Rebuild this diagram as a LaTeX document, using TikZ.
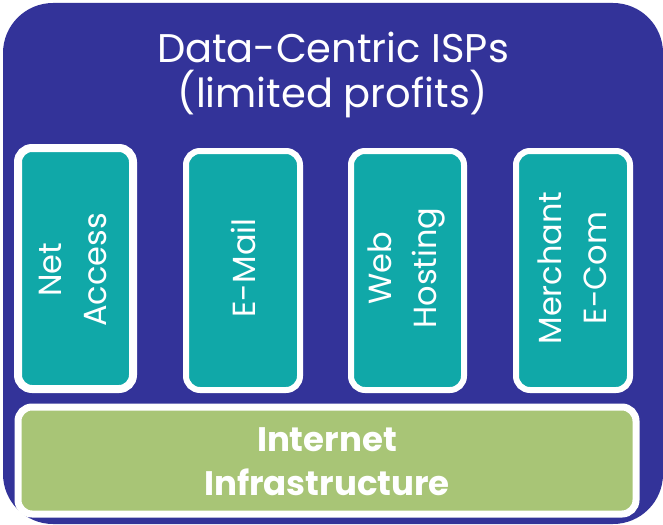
\documentclass[tikz,border=0pt]{standalone}
\usepackage{fontspec}
\setmainfont{Poppins}
\definecolor{ispblue}{RGB}{51,51,153}
\definecolor{svcteal}{RGB}{16,168,168}
\definecolor{infragreen}{RGB}{168,197,118}
\begin{document}
\begin{tikzpicture}[x=1pt,y=-1pt,
  svcbox/.style={draw=white,line width=6pt,fill=svcteal,rounded corners=14pt},
  svclabel/.style={text=white,rotate=90,align=center,font=\fontsize{32}{45}\selectfont},
  infrabox/.style={draw=white,line width=7pt,fill=infragreen,rounded corners=14pt},
  infralabel/.style={text=white,align=center,font=\bfseries\fontsize{34}{44}\selectfont}]
\useasboundingbox (0,0) rectangle (663,524);
% outer container
\fill[ispblue,rounded corners=50pt] (3,3) rectangle (663,524);
\node[text=white,align=center,font=\fontsize{40}{45}\selectfont] (title) at (333,75) {Data-Centric ISPs\\(limited profits)};
% service columns
\draw[svcbox,line width=8pt] (18,148) rectangle (133,389);
\node[svclabel] (net) at (73,270) {Net\\Access};
\draw[svcbox] (186,151) rectangle (300,390);
\node[svclabel] (mail) at (243,268) {E-Mail};
\draw[svcbox] (351,151) rectangle (464,390);
\node[svclabel] (web) at (406,268) {Web\\Hosting};
\draw[svcbox] (516,151) rectangle (630,390);
\node[svclabel] (merch) at (572,268) {Merchant\\E-Com};
% infrastructure base
\draw[infrabox] (18,407) rectangle (636,514);
\node[infralabel] (infra) at (327,462) {Internet\\Infrastructure};
\end{tikzpicture}
\end{document}
